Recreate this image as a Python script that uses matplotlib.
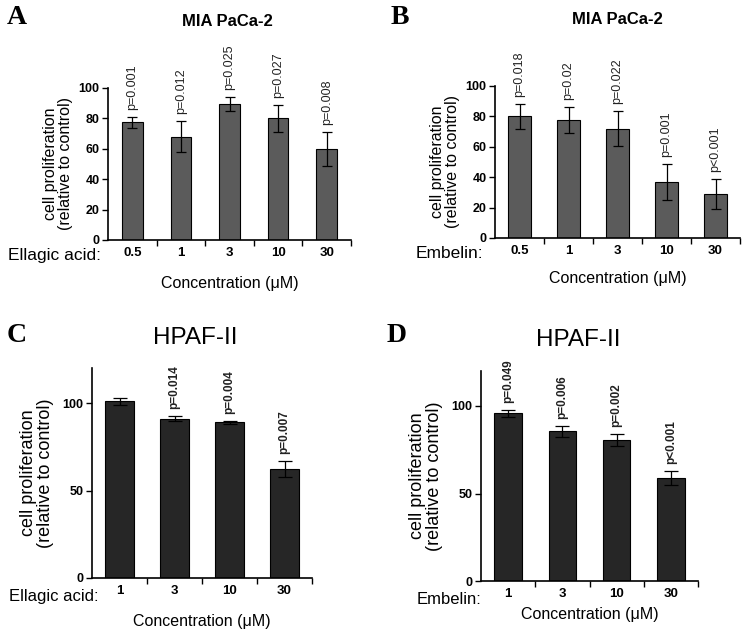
import numpy as np
import matplotlib
matplotlib.use('Agg')
import matplotlib.pyplot as plt
from matplotlib.ticker import FixedLocator

plt.rcParams['font.family'] = ['Liberation Sans', 'DejaVu Sans']

# panel A - MIA PaCa-2, ellagic acid
conc_a = ['0.5', '1', '3', '10', '30']
mean_a = [77.5, 68, 89.5, 80, 60]
err_a = [3.5, 10, 4.5, 9, 11]
p_a = ['p=0.001', 'p=0.012', 'p=0.025', 'p=0.027', 'p=0.008']

# panel B - MIA PaCa-2, embelin
conc_b = ['0.5', '1', '3', '10', '30']
mean_b = [80, 77.5, 72, 37, 29]
err_b = [8, 8.5, 11.5, 12, 10]
p_b = ['p=0.018', 'p=0.02', 'p=0.022', 'p=0.001', 'p<0.001']

# panel C - HPAF-II, ellagic acid
conc_c = ['1', '3', '10', '30']
mean_c = [101, 91, 89, 62.5]
err_c = [2, 1.5, 1, 4.5]
p_c = ['', 'p=0.014', 'p=0.004', 'p=0.007']

# panel D - HPAF-II, embelin
conc_d = ['1', '3', '10', '30']
mean_d = [96, 85.5, 80.5, 59]
err_d = [2, 3, 3.5, 4]
p_d = ['p=0.049', 'p=0.006', 'p=0.002', 'p<0.001']

W, H = 749, 636
fig = plt.figure(figsize=(W / 100, H / 100), dpi=100)


def box(l, r, b, t):
    return [l / W, 1 - b / H, (r - l) / W, (b - t) / H]


def panel(rect, cats, vals, errs, pvals, drug, color, width, ymax, yticks,
          ylab_size, p_bold, p_size, cap, lab_size, lab_dx, xpad=10, ypad=6):
    ax = fig.add_axes(rect)
    x = np.arange(len(cats))
    ax.bar(x, vals, width, color=color, edgecolor='black', linewidth=0.8, zorder=2)
    ax.errorbar(x, vals, yerr=errs, fmt='none', ecolor='black', elinewidth=0.9,
                capsize=cap, capthick=0.9, zorder=3)
    for xi, v, e, p in zip(x, vals, errs, pvals):
        if p:
            ax.annotate(p, (xi, v + e), xytext=(0, 5), textcoords='offset points',
                        rotation=90, ha='center', va='bottom', fontsize=p_size,
                        fontweight='bold' if p_bold else 'normal', color='#222222')
    ax.set_xlim(-0.5, len(cats) - 0.5)
    ax.set_ylim(0, ymax)
    ax.set_yticks(yticks)
    ax.set_yticklabels([str(t) for t in yticks], fontweight='bold', fontsize=9)
    ax.set_xticks(x)
    ax.set_xticklabels(cats, fontweight='bold', fontsize=9.5)
    ax.xaxis.set_minor_locator(FixedLocator(np.arange(len(cats)) + 0.5))
    ax.tick_params(axis='x', which='major', length=0, pad=5)
    ax.tick_params(axis='x', which='minor', length=4, width=1, direction='out')
    ax.tick_params(axis='y', length=4, width=1, direction='out', pad=2)
    for s in ['top', 'right']:
        ax.spines[s].set_visible(False)
    for s in ['left', 'bottom']:
        ax.spines[s].set_linewidth(1.2)
    ax.set_ylabel('cell proliferation\n(relative to control)', fontsize=ylab_size,
                  linespacing=1.0, labelpad=ypad)
    ax.set_xlabel('Concentration (\u03bcM)', fontsize=11.5, labelpad=xpad)
    ax.text(lab_dx, -0.05, drug, transform=ax.transAxes, ha='right', va='top',
            fontsize=lab_size)
    return ax


panel(box(108, 351, 240, 88), conc_a, mean_a, err_a, p_a, 'Ellagic acid:',
      '#5b5b5b', 0.42, 100, [0, 20, 40, 60, 80, 100], 11.5, False, 9, 3.5, 12.5, -0.03,
      xpad=12, ypad=4)
panel(box(495, 740, 238, 86), conc_b, mean_b, err_b, p_b, 'Embelin:',
      '#5b5b5b', 0.45, 100, [0, 20, 40, 60, 80, 100], 11.5, False, 9, 3.5, 12.5, -0.05,
      xpad=10, ypad=4)
panel(box(92, 312, 578, 368), conc_c, mean_c, err_c, p_c, 'Ellagic acid:',
      '#262626', 0.52, 120, [0, 50, 100], 13, True, 8.5, 5, 12, 0.03, xpad=12)
panel(box(481, 698, 581, 371), conc_d, mean_d, err_d, p_d, 'Embelin:',
      '#262626', 0.51, 120, [0, 50, 100], 13, True, 8.5, 5, 12, 0.0, xpad=5)

# titles
fig.text(227 / W, 1 - 22 / H, 'MIA PaCa-2', ha='center', va='center',
         fontsize=12, fontweight='bold')
fig.text(617 / W, 1 - 20 / H, 'MIA PaCa-2', ha='center', va='center',
         fontsize=12, fontweight='bold')
fig.text(195 / W, 1 - 338 / H, 'HPAF-II', ha='center', va='center', fontsize=17.5)
fig.text(578 / W, 1 - 340 / H, 'HPAF-II', ha='center', va='center', fontsize=17.5)

# panel letters
for lx, ly, s in [(7, 18, 'A'), (391, 17, 'B'), (7, 335, 'C'), (387, 336, 'D')]:
    fig.text(lx / W, 1 - ly / H, s, ha='left', va='center', fontsize=20,
             fontweight='bold', family='Liberation Serif')

fig.savefig('out.png', dpi=100)
